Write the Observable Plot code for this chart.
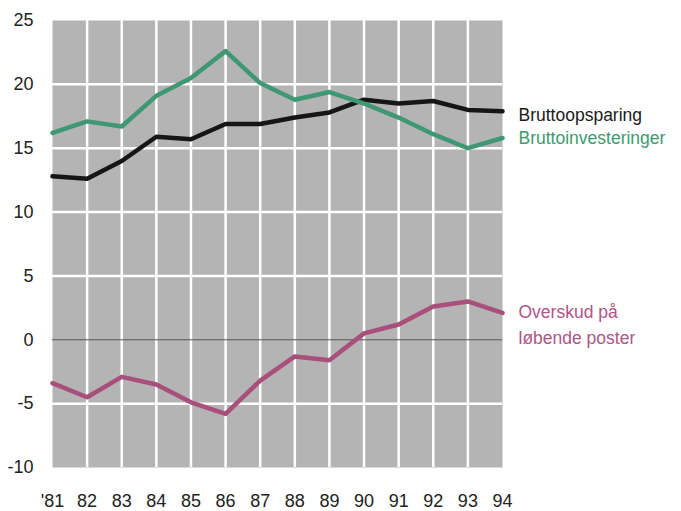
<!DOCTYPE html>
<html>
<head>
<meta charset="utf-8">
<script src="https://cdn.jsdelivr.net/npm/d3@7"></script>
<script src="https://cdn.jsdelivr.net/npm/@observablehq/plot@0.6"></script>
<style>
  html, body { margin: 0; padding: 0; background: #fff; }
</style>
</head>
<body>
<div id="chart"></div>
<script>
const years = [1981, 1982, 1983, 1984, 1985, 1986, 1987, 1988, 1989, 1990, 1991, 1992, 1993, 1994];
const xTickLabels = ["'81", "82", "83", "84", "85", "86", "87", "88", "89", "90", "91", "92", "93", "94"];
const bruttoopsparing = [12.8, 12.6, 14.0, 15.9, 15.7, 16.9, 16.9, 17.4, 17.8, 18.8, 18.5, 18.7, 18.0, 17.9];
const bruttoinvesteringer = [16.2, 17.1, 16.7, 19.1, 20.5, 22.6, 20.1, 18.8, 19.4, 18.5, 17.4, 16.1, 15.0, 15.8];
const overskud = [-3.4, -4.5, -2.9, -3.5, -4.9, -5.8, -3.2, -1.3, -1.6, 0.5, 1.2, 2.6, 3.0, 2.1];
const yTicks = [-10, -5, 0, 5, 10, 15, 20, 25];
const yGrid = [-5, 5, 10, 15, 20];
const seriesNames = ["Bruttoopsparing", "Bruttoinvesteringer", "Overskud på\nløbende poster"];
const seriesColors = ["#161616", "#3f9873", "#a94f7c"];
const labelColors = ["#1a1a1a", "#3c9b6e", "#b0548a"];

const seriesValues = [bruttoopsparing, bruttoinvesteringer, overskud];
const rows = seriesValues.flatMap((vals, s) => years.map((yr, i) => ({year: yr, value: vals[i], series: s})));
const lastRows = seriesValues.map((vals, s) => ({year: years[years.length - 1], value: vals[vals.length - 1], series: s, name: seriesNames[s]}));
const labelDy = [2, -2, 10];

const font = "'Liberation Sans', Arial, sans-serif";

const chart = Plot.plot({
  width: 681,
  height: 511,
  marginLeft: 52,
  marginRight: 179,
  marginTop: 20,
  marginBottom: 44,
  style: {fontFamily: font, fontSize: "18px", color: "#222", background: "#fff"},
  x: {domain: [years[0], years[years.length - 1]], label: null},
  y: {domain: [yTicks[0], yTicks[yTicks.length - 1]], label: null},
  marks: [
    Plot.frame({fill: "#b4b4b4", stroke: null}),
    Plot.ruleX(years.slice(1, -1), {stroke: "#fff", strokeWidth: 2.5}),
    Plot.ruleY(yGrid, {stroke: "#fff", strokeWidth: 2.5}),
    Plot.ruleY([0], {stroke: "#555", strokeWidth: 1}),
    Plot.axisX({ticks: years, tickFormat: d => xTickLabels[years.indexOf(d)], tickSize: 0, tickPadding: 27, fontSize: 18, fill: "#222", label: null}),
    Plot.axisY({ticks: yTicks, tickFormat: d => String(d), tickSize: 0, tickPadding: 19, fontSize: 18, fill: "#222", label: null}),
    Plot.line(rows, {x: "year", y: "value", z: "series", stroke: d => seriesColors[d.series], strokeWidth: 4.5, strokeLinejoin: "round", strokeLinecap: "round"}),
    ...lastRows.map((r, s) => Plot.text([r], {x: "year", y: "value", text: "name", textAnchor: "start", dx: 16, dy: labelDy[s], fill: labelColors[s], fontSize: 17.5, lineHeight: 1.45, lineAnchor: "middle"}))
  ]
});

document.getElementById("chart").appendChild(chart);
</script>
</body>
</html>
